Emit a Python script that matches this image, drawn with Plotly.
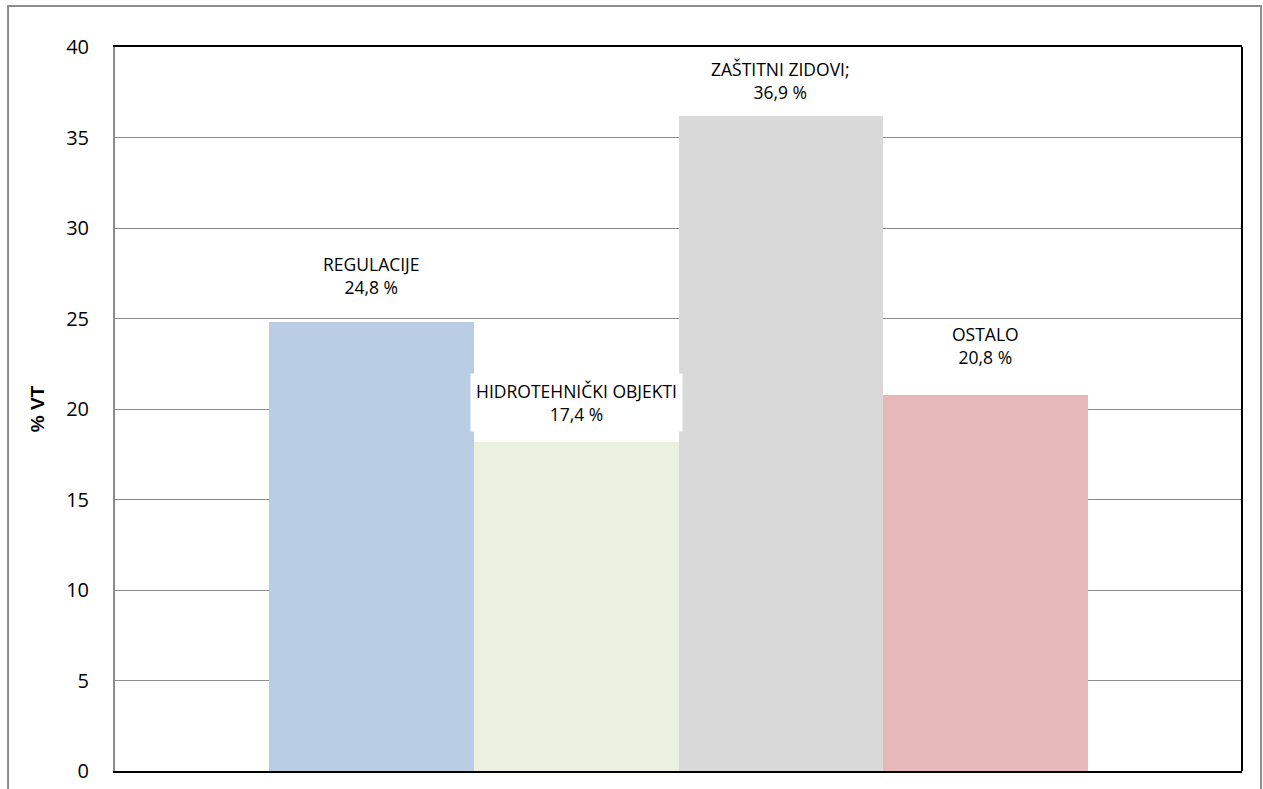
import plotly.graph_objects as go

categories = ["REGULACIJE", "HIDROTEHNIČKI OBJEKTI", "ZAŠTITNI ZIDOVI;", "OSTALO"]
bar_values = [24.8, 18.2, 36.2, 20.8]
label_values = ["24,8 %", "17,4 %", "36,9 %", "20,8 %"]
colors = ["#B9CDE5", "#EBF1DE", "#D9D9D9", "#E6B9B8"]
label_shift = [22, 10, 11, 25]
y_ticks = [0, 5, 10, 15, 20, 25, 30, 35, 40]

fig = go.Figure()
xs = list(range(len(categories)))
fig.add_trace(go.Bar(x=xs, y=bar_values, width=1.0, marker=dict(color=colors, line=dict(width=0)),
                     showlegend=False, hoverinfo="skip"))

for i, (c, v, lbl) in enumerate(zip(categories, bar_values, label_values)):
    fig.add_annotation(x=i, y=v, xref="x", yref="y", text=f"{c}<br>{lbl}",
                       showarrow=False, yanchor="bottom", yshift=label_shift[i],
                       font=dict(family="Open Sans, Liberation Sans", size=17.5, color="#000"),
                       bgcolor="white", borderpad=5 if i == 1 else 0, align="center")

# outer chart border
fig.add_shape(type="rect", xref="paper", yref="paper", x0=-0.0949, x1=1.0169, y0=-0.1, y1=1.0566,
              line=dict(color="#8c8c8c", width=2), fillcolor="rgba(0,0,0,0)", layer="below")
# right border of plot area
fig.add_shape(type="line", xref="paper", yref="paper", x0=1, x1=1, y0=0, y1=1,
              line=dict(color="#000", width=2))

fig.update_layout(
    width=1263, height=789,
    margin=dict(l=115, r=21, t=47, b=18),
    paper_bgcolor="white", plot_bgcolor="white",
    bargap=0,
    xaxis=dict(range=[-1.25, 4.25], showticklabels=False, showgrid=False, zeroline=False,
               showline=True, linecolor="#000", linewidth=2, mirror=True, ticks="", automargin=False),
    yaxis=dict(range=[0, 40], tickvals=y_ticks, showgrid=True, gridcolor="#8c8c8c", gridwidth=1,
               zeroline=False, showline=True, linecolor="#8c8c8c", linewidth=2, ticks="",
               ticklabelstandoff=20, automargin=False,
               tickfont=dict(family="Open Sans, Liberation Sans", size=20, color="#000"),
               title=dict(text="<b>% VT</b>", standoff=16,
                          font=dict(family="Liberation Sans, Arial", size=19, color="#000"))),
)

fig.write_html("out.html")
